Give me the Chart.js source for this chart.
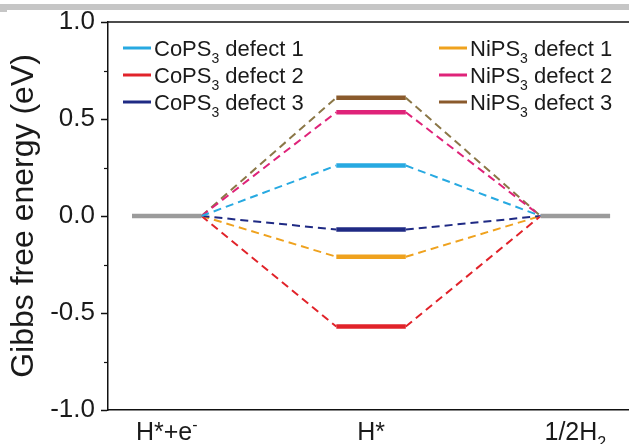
<!DOCTYPE html>
<html>
<head>
<meta charset="utf-8">
<script src="https://cdn.jsdelivr.net/npm/chart.js@4.4.1/dist/chart.umd.min.js"></script>
<style>
  html, body { margin: 0; padding: 0; background: #fff; }
  #wrap { width: 629px; height: 444px; }
</style>
</head>
<body>
<div id="wrap"><canvas id="gibbsChart" width="629" height="444"></canvas></div>
<script>
// reaction steps (x categories), "_" = subscript, "^" = superscript (one char)
const stepLabels = ["H*+e^-", "H*", "1/2H_2"];
const stepPositions = [1, 5, 9];

// Gibbs free energy of H* for each catalyst (eV)
const seriesNames = [
  "CoPS_3 defect 1", "CoPS_3 defect 2", "CoPS_3 defect 3",
  "NiPS_3 defect 1", "NiPS_3 defect 2", "NiPS_3 defect 3"
];
const hStarEnergy = [0.26, -0.57, -0.07, -0.21, 0.535, 0.61];
const startEnergy = 0;
const endEnergy = 0;

const yTicks = [-1.0, -0.5, 0.0, 0.5, 1.0];

const seriesColors = ["#27a9e1", "#e1232a", "#1f2a84", "#efa21e", "#df2379", "#8a5a2c"];
const dashColors = ["#27a9e1", "#e1232a", "#1f2a84", "#efa21e", "#df2379", "#8b7747"];
const halfWidth = 0.68;

// split "CoPS_3 defect 1" into pieces with sub/superscript
function richParts(text) {
  const parts = [];
  let buf = "";
  for (let i = 0; i < text.length; i++) {
    const c = text[i];
    if ((c === "_" || c === "^") && i + 1 < text.length) {
      if (buf) parts.push({ t: buf, k: 0 });
      buf = "";
      parts.push({ t: text[i + 1], k: c === "_" ? 1 : -1 });
      i++;
    } else {
      buf += c;
    }
  }
  if (buf) parts.push({ t: buf, k: 0 });
  return parts;
}

function drawRich(ctx, text, x, y, size, align) {
  const parts = richParts(text);
  const small = Math.round(size * 0.62);
  const fontOf = k => (k === 0 ? size : small) + "px 'Liberation Sans', Arial, sans-serif";
  let total = 0;
  parts.forEach(p => { ctx.font = fontOf(p.k); total += ctx.measureText(p.t).width; });
  let cx = align === "center" ? x - total / 2 : x;
  ctx.textAlign = "left";
  ctx.textBaseline = "alphabetic";
  parts.forEach(p => {
    ctx.font = fontOf(p.k);
    const dy = p.k === 1 ? size * 0.3 : (p.k === -1 ? -size * 0.42 : 0);
    ctx.fillText(p.t, cx, y + dy);
    cx += ctx.measureText(p.t).width;
  });
}

const datasets = [];
// gray reference levels for H*+e- and 1/2H2
datasets.push({
  data: [{ x: stepPositions[0] - halfWidth, y: startEnergy }, { x: stepPositions[0] + halfWidth, y: startEnergy }],
  borderColor: "#9b9b9b", borderWidth: 4.5, pointRadius: 0, order: 0
});
datasets.push({
  data: [{ x: stepPositions[2] - halfWidth, y: endEnergy }, { x: stepPositions[2] + halfWidth, y: endEnergy }],
  borderColor: "#9b9b9b", borderWidth: 4.5, pointRadius: 0, order: 0
});
seriesNames.forEach((name, i) => {
  const dash = dashColors[i];
  const solid = seriesColors[i];
  datasets.push({
    label: name,
    data: [
      { x: stepPositions[0] + halfWidth, y: startEnergy },
      { x: stepPositions[1] - halfWidth, y: hStarEnergy[i] },
      { x: stepPositions[1] + halfWidth, y: hStarEnergy[i] },
      { x: stepPositions[2] - halfWidth, y: endEnergy }
    ],
    borderColor: solid,
    borderWidth: 2,
    pointRadius: 0,
    tension: 0,
    order: 1,
    segment: {
      borderDash: ctx => (ctx.p0DataIndex === 1 ? [] : [8, 5]),
      borderWidth: ctx => (ctx.p0DataIndex === 1 ? 4.5 : 2),
      borderColor: ctx => (ctx.p0DataIndex === 1 ? solid : dash)
    }
  });
});

const decorPlugin = {
  id: "decor",
  beforeDraw(chart) {
    const ctx = chart.ctx;
    ctx.save();
    ctx.fillStyle = "#c6c6c6";
    ctx.fillRect(0, 4, chart.width, 6);
    ctx.fillRect(0, 9, 7, 3);
    ctx.restore();
  },
  afterDraw(chart) {
    const ctx = chart.ctx;
    const area = chart.chartArea;
    const y = chart.scales.y;
    const x = chart.scales.x;
    ctx.save();
    // top frame line
    ctx.strokeStyle = "#111";
    ctx.lineWidth = 1.5;
    ctx.beginPath();
    ctx.moveTo(area.left, area.top);
    ctx.lineTo(area.right, area.top);
    ctx.stroke();
    // minor ticks
    ctx.lineWidth = 1.2;
    [-0.75, -0.25, 0.25, 0.75].forEach(v => {
      const py = Math.round(y.getPixelForValue(v)) + 0.5;
      ctx.beginPath();
      ctx.moveTo(area.left - 4, py);
      ctx.lineTo(area.left, py);
      ctx.stroke();
    });
    // x category labels
    ctx.fillStyle = "#1a1a1a";
    stepLabels.forEach((lab, i) => {
      drawRich(ctx, lab, x.getPixelForValue(stepPositions[i]), 440, 25, "center");
    });
    // legend, two columns
    const rows = [48, 75, 102];
    seriesNames.forEach((name, i) => {
      const col = i < 3 ? 0 : 1;
      const lx = col === 0 ? 123 : 439;
      const ry = rows[i % 3];
      ctx.strokeStyle = seriesColors[i];
      ctx.lineWidth = 3;
      ctx.beginPath();
      ctx.moveTo(lx, ry);
      ctx.lineTo(lx + 28, ry);
      ctx.stroke();
      ctx.fillStyle = "#1a1a1a";
      drawRich(ctx, name, lx + 31, ry + 8, 22, "left");
    });
    ctx.restore();
  }
};

new Chart(document.getElementById("gibbsChart"), {
  type: "line",
  data: { datasets: datasets },
  plugins: [decorPlugin],
  options: {
    responsive: false,
    animation: false,
    layout: { padding: { top: 22, right: 0, left: 0, bottom: 0 } },
    plugins: { legend: { display: false }, tooltip: { enabled: false } },
    scales: {
      x: {
        type: "linear",
        min: -0.15,
        max: 10.05,
        grid: { display: false, drawTicks: false },
        ticks: { display: false },
        border: { color: "#111", width: 1.5 },
        afterFit: scale => { scale.height = 34; }
      },
      y: {
        min: -1,
        max: 1,
        afterBuildTicks: scale => { scale.ticks = yTicks.map(v => ({ value: v })); },
        ticks: {
          callback: v => v.toFixed(1),
          color: "#1a1a1a",
          padding: 6,
          font: { size: 26, family: "'Liberation Sans', Arial, sans-serif" }
        },
        grid: { drawOnChartArea: false, drawTicks: true, tickLength: 7, tickColor: "#111", tickWidth: 1.5 },
        border: { color: "#111", width: 1.5 },
        title: {
          display: true,
          text: "Gibbs free energy (eV)",
          color: "#1a1a1a",
          padding: { top: 5, bottom: 0 },
          font: { size: 32, family: "'Liberation Sans', Arial, sans-serif" }
        },
        afterFit: scale => { scale.width = 108; }
      }
    }
  }
});
</script>
</body>
</html>
